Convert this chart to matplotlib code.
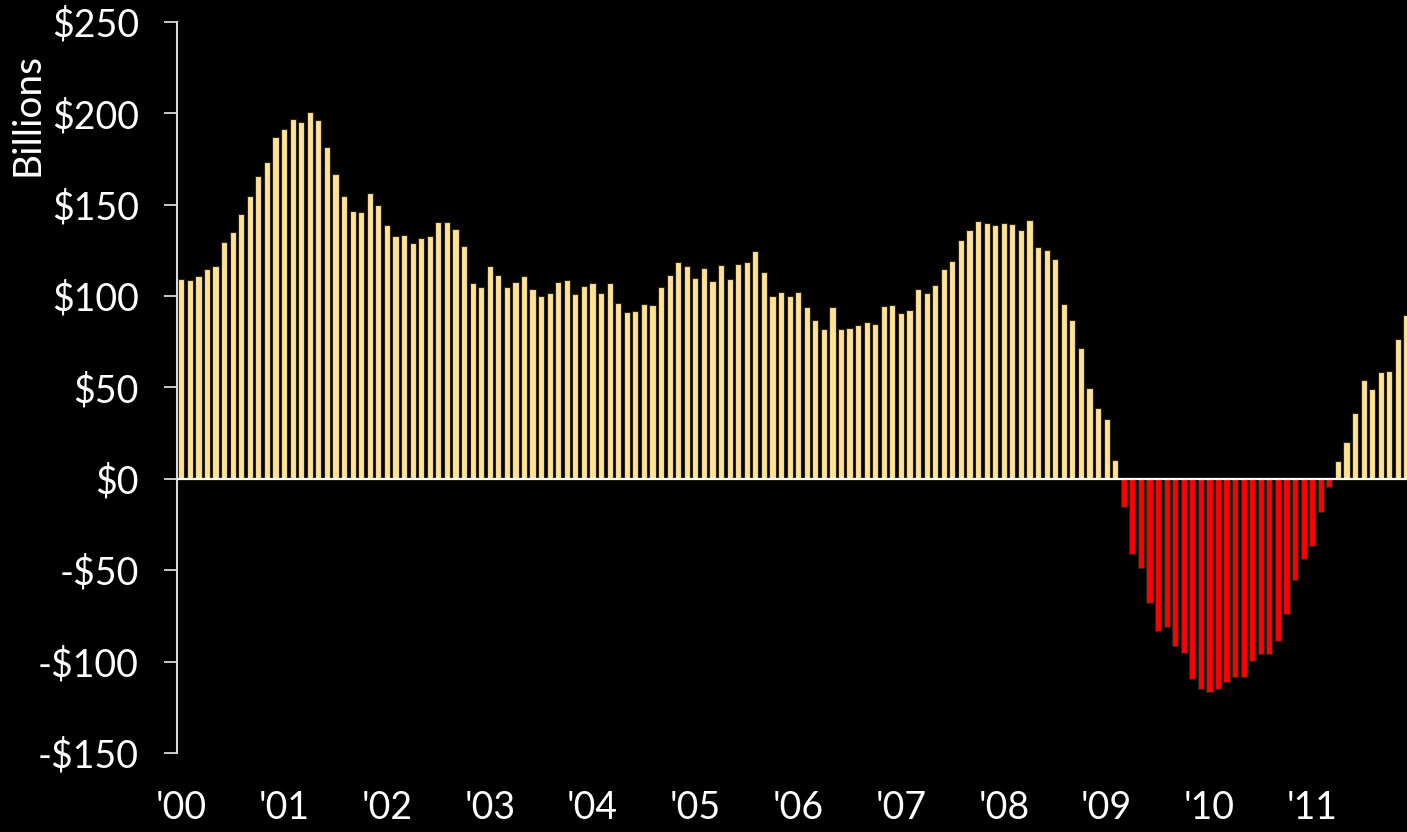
import matplotlib
matplotlib.use("Agg")
import matplotlib.pyplot as plt
import numpy as np

plt.rcParams.update({
    "font.family": ["Lato", "DejaVu Sans"],
    "font.size": 27,
})

POS_COLOR = "#FFE293"
NEG_COLOR = "#FF0000"
BG_COLOR = "black"
FG_COLOR = "white"

# monthly values, Jan 2000 .. Dec 2011 ($ billions)
year_labels = ["'00", "'01", "'02", "'03", "'04", "'05", "'06", "'07", "'08", "'09", "'10", "'11"]
monthly_values = [
    109.4, 108.7, 110.9, 114.9, 116.3, 129.6, 135.1, 145.1, 154.6, 165.7, 173.4, 186.9,
    191.5, 196.8, 195.1, 200.9, 196.4, 181.6, 167.0, 155.0, 146.6, 146.1, 156.5, 149.9,
    138.8, 132.8, 133.3, 129.1, 132.0, 132.9, 140.6, 140.6, 136.8, 127.6, 107.1, 104.7,
    116.7, 111.4, 105.0, 107.9, 111.0, 103.8, 99.8, 101.9, 107.6, 108.7, 101.4, 105.4,
    107.0, 101.6, 106.9, 96.3, 91.2, 92.1, 95.4, 95.0, 104.7, 111.4, 118.7, 116.7,
    109.8, 115.4, 108.1, 116.9, 109.2, 117.4, 118.5, 124.9, 113.1, 99.9, 102.1, 99.9,
    102.5, 93.9, 87.0, 81.9, 94.1, 82.1, 82.6, 84.1, 85.9, 84.6, 94.5, 95.0,
    90.6, 92.6, 103.9, 101.8, 105.8, 114.9, 119.3, 130.6, 136.0, 141.0, 139.9, 138.8,
    140.2, 139.3, 136.2, 141.7, 126.7, 125.3, 120.2, 95.4, 86.8, 71.8, 49.9, 38.5,
    32.6, 10.2, -15.5, -41.0, -48.7, -67.8, -83.2, -81.0, -91.7, -95.5, -109.4, -114.9,
    -116.9, -115.2, -111.4, -108.7, -108.3, -99.9, -96.1, -95.7, -88.5, -74.2, -55.1, -44.1,
    -37.0, -18.2, -4.2, 9.7, 20.2, 36.1, 54.2, 48.9, 58.7, 59.2, 76.7, 89.7,
]
y_ticks = [-150, -100, -50, 0, 50, 100, 150, 200, 250]

values = np.array(monthly_values)
x = np.arange(len(values))
colors = [POS_COLOR if v >= 0 else NEG_COLOR for v in values]

fig = plt.figure(figsize=(14.07, 8.32), dpi=100)
fig.patch.set_facecolor(BG_COLOR)
ax = fig.add_axes([0.1258, 0.0950, 0.8742, 0.8786])
ax.set_facecolor(BG_COLOR)

ax.bar(x, values, width=0.72, color=colors, edgecolor="#2a2418", linewidth=0.8, zorder=2)
ax.axhline(0, color=FG_COLOR, linewidth=1.6, zorder=3)

ax.set_xlim(-0.5, 143.06)
ax.set_ylim(-150, 250)
ax.set_yticks(y_ticks)
ax.set_yticklabels([f"${v}" if v >= 0 else f"-${-v}" for v in y_ticks])
ax.set_xticks(x[::12])
ax.set_xticklabels(year_labels)

for side in ["top", "right", "bottom"]:
    ax.spines[side].set_visible(False)
ax.spines["left"].set_color("#d9d9d9")
ax.spines["left"].set_linewidth(1.5)

ax.tick_params(axis="y", colors="#d9d9d9", length=9.5, width=1.3, pad=18, labelcolor=FG_COLOR)
ax.tick_params(axis="x", length=0, pad=27, labelcolor=FG_COLOR)

fig.text(28 / 1407, 1 - 115 / 832, "Billions", rotation=90, color=FG_COLOR,
         fontsize=28, ha="center", va="center")

plt.savefig("out.png", facecolor=BG_COLOR)
plt.close()
